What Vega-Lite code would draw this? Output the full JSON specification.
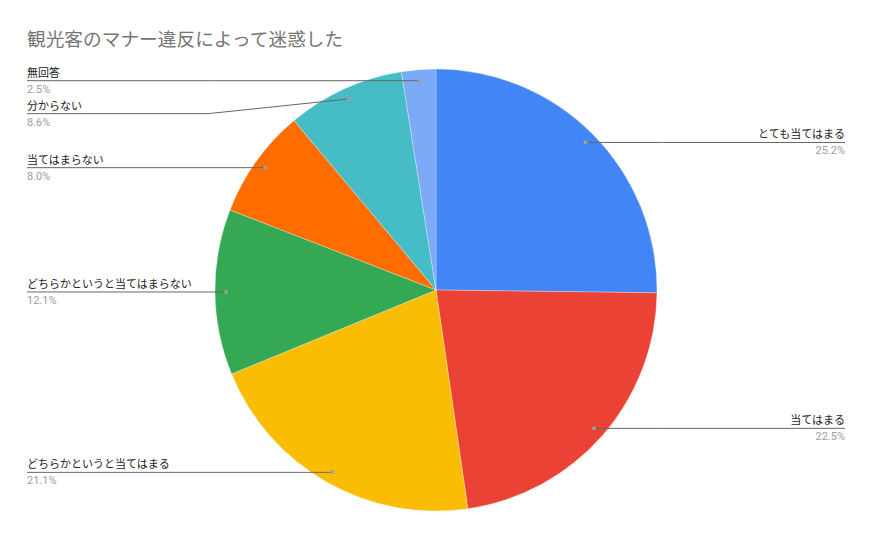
{
  "$schema": "https://vega.github.io/schema/vega-lite/v6.json",
  "width": 872,
  "height": 482,
  "autosize": {"type": "none"},
  "padding": {"left": 0, "right": 0, "top": 49, "bottom": 8},
  "background": "white",
  "title": {
    "text": "観光客のマナー違反によって迷惑した",
    "anchor": "start",
    "dx": 27,
    "offset": -1,
    "fontSize": 18.7,
    "fontWeight": "normal",
    "color": "#757575",
    "font": "Roboto, Noto Sans CJK JP"
  },
  "config": {
    "view": {"stroke": null},
    "text": {"font": "Roboto, Noto Sans CJK JP"}
  },
  "data": {
    "values": [
      {"label": "とても当てはまる", "value": 25.2, "order": 1},
      {"label": "当てはまる", "value": 22.5, "order": 2},
      {"label": "どちらかというと当てはまる", "value": 21.1, "order": 3},
      {"label": "どちらかというと当てはまらない", "value": 12.1, "order": 4},
      {"label": "当てはまらない", "value": 8.0, "order": 5},
      {"label": "分からない", "value": 8.6, "order": 6},
      {"label": "無回答", "value": 2.5, "order": 7}
    ]
  },
  "transform": [
    {"window": [{"op": "sum", "field": "value", "as": "cum"}], "sort": [{"field": "order"}], "frame": [null, 0]},
    {"joinaggregate": [{"op": "sum", "field": "value", "as": "total"}]},
    {"calculate": "(datum.cum - datum.value / 2) / datum.total * 2 * PI", "as": "mid"},
    {"calculate": "0.95 * sin(datum.mid)", "as": "xd"},
    {"calculate": "-0.95 * cos(datum.mid)", "as": "yd"},
    {"calculate": "datum.xd < 0 ? 'L' : 'R'", "as": "side"},
    {"window": [{"op": "row_number", "as": "rn"}], "groupby": ["side"], "sort": [{"field": "yd"}]},
    {"calculate": "datum.yd - 0.149 * (datum.rn - 1)", "as": "t"},
    {"window": [{"op": "max", "field": "t", "as": "tmax"}], "groupby": ["side"], "sort": [{"field": "yd"}], "frame": [null, 0]},
    {"calculate": "datum.tmax + 0.149 * (datum.rn - 1)", "as": "ly"},
    {"calculate": "datum.side == 'L' ? -1.8507 : 1.8507", "as": "xe"},
    {"calculate": "datum.side == 'L' ? -1.03 : 1.03", "as": "xb"},
    {"calculate": "format(datum.value, '.1f') + '%'", "as": "pct"}
  ],
  "layer": [
    {
      "mark": {"type": "arc", "radius": 221, "stroke": "white", "strokeWidth": 0.3},
      "encoding": {
        "theta": {"field": "value", "type": "quantitative", "stack": true},
        "order": {"field": "order", "type": "quantitative"},
        "color": {
          "field": "label",
          "type": "nominal",
          "legend": null,
          "scale": {
            "domain": ["とても当てはまる", "当てはまる", "どちらかというと当てはまる", "どちらかというと当てはまらない", "当てはまらない", "分からない", "無回答"],
            "range": ["#4285F4", "#EA4335", "#FBBC04", "#34A853", "#FF6D01", "#46BDC6", "#7BAAF7"]
          }
        }
      }
    },
    {
      "mark": {"type": "rule", "color": "#666666", "strokeWidth": 1},
      "encoding": {
        "x": {"field": "xd", "type": "quantitative", "axis": null, "scale": {"domain": [-1.97285, 1.97285], "nice": false, "zero": false}},
        "y": {"field": "yd", "type": "quantitative", "axis": null, "scale": {"domain": [-1.0905, 1.0905], "nice": false, "zero": false, "reverse": true}},
        "x2": {"field": "xb"},
        "y2": {"field": "ly"}
      }
    },
    {
      "mark": {"type": "rule", "color": "#666666", "strokeWidth": 1},
      "encoding": {
        "x": {"field": "xb", "type": "quantitative"},
        "y": {"field": "ly", "type": "quantitative"},
        "x2": {"field": "xe"}
      }
    },
    {
      "mark": {"type": "point", "filled": true, "size": 16, "color": "#9e9e9e", "opacity": 1},
      "encoding": {
        "x": {"field": "xd", "type": "quantitative"},
        "y": {"field": "yd", "type": "quantitative"}
      }
    },
    {
      "transform": [{"filter": "datum.side == 'L'"}],
      "mark": {"type": "text", "align": "left", "baseline": "alphabetic", "dy": -4, "fontSize": 11, "color": "#222222"},
      "encoding": {
        "x": {"field": "xe", "type": "quantitative"},
        "y": {"field": "ly", "type": "quantitative"},
        "text": {"field": "label"}
      }
    },
    {
      "transform": [{"filter": "datum.side == 'L'"}],
      "mark": {"type": "text", "align": "left", "baseline": "alphabetic", "dy": 12, "fontSize": 11, "color": "#9e9e9e"},
      "encoding": {
        "x": {"field": "xe", "type": "quantitative"},
        "y": {"field": "ly", "type": "quantitative"},
        "text": {"field": "pct"}
      }
    },
    {
      "transform": [{"filter": "datum.side == 'R'"}],
      "mark": {"type": "text", "align": "right", "baseline": "alphabetic", "dy": -4, "fontSize": 11, "color": "#222222"},
      "encoding": {
        "x": {"field": "xe", "type": "quantitative"},
        "y": {"field": "ly", "type": "quantitative"},
        "text": {"field": "label"}
      }
    },
    {
      "transform": [{"filter": "datum.side == 'R'"}],
      "mark": {"type": "text", "align": "right", "baseline": "alphabetic", "dy": 12, "fontSize": 11, "color": "#9e9e9e"},
      "encoding": {
        "x": {"field": "xe", "type": "quantitative"},
        "y": {"field": "ly", "type": "quantitative"},
        "text": {"field": "pct"}
      }
    }
  ]
}
